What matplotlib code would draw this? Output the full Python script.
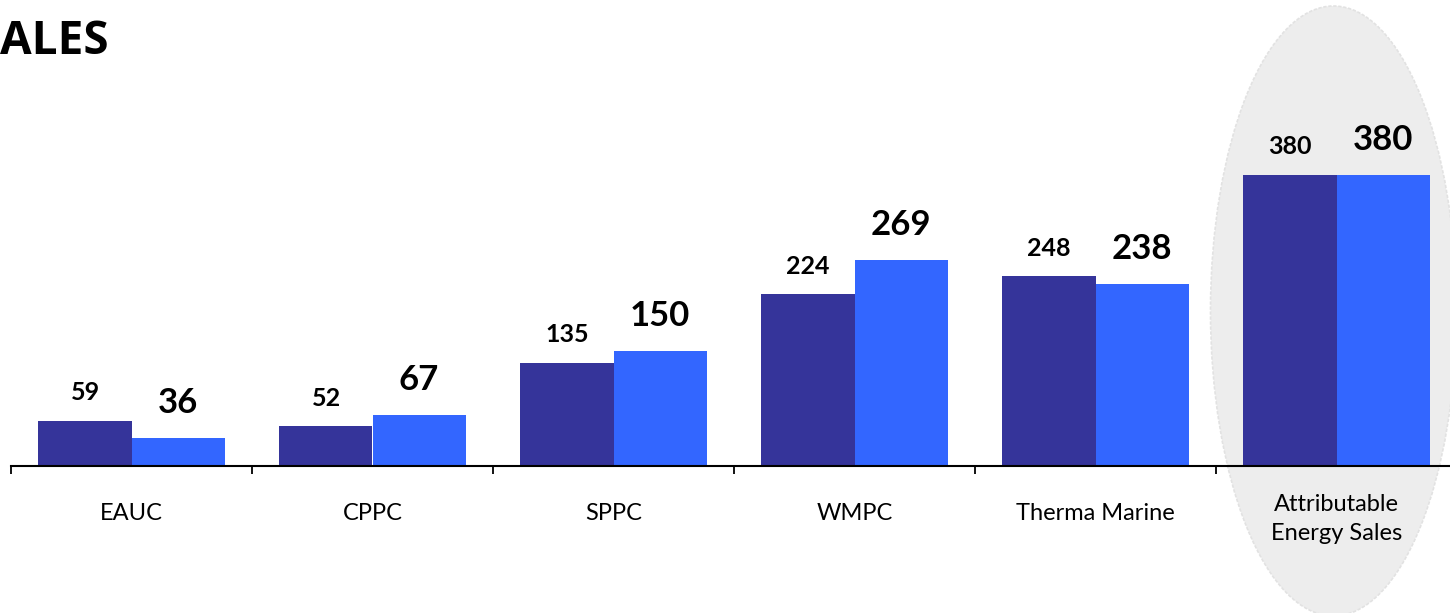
import matplotlib.pyplot as plt
from matplotlib.patches import Ellipse
import matplotlib.transforms as mtransforms
import numpy as np

# data
categories = ['EAUC', 'CPPC', 'SPPC', 'WMPC', 'Therma Marine', 'Attributable\nEnergy Sales']
prev_values = [59, 52, 135, 224, 248, 380]
curr_values = [36, 67, 150, 269, 238, 380]

dark_blue = '#35349A'
light_blue = '#3366FF'

plt.rcParams['font.family'] = ['Lato', 'DejaVu Sans']

fig = plt.figure(figsize=(14.5, 6.13), dpi=100)
W, H = 1450, 613
# baseline at y=466 px from top, one category = 241 px
ax = fig.add_axes([11 / W, 147 / H, 1446 / W, 406 / H])
ax.set_facecolor('none')

x = np.arange(len(categories))
bw = 0.386
ax.bar(x - bw / 2, prev_values, bw, color=dark_blue, zorder=2)
ax.bar(x + bw / 2, curr_values, bw, color=light_blue, zorder=2)

ax.set_xlim(-0.5, len(categories) - 0.5)
ax.set_ylim(0, 530)

# value labels
for xi, v in zip(x, prev_values):
    ax.annotate(str(v), (xi - bw / 2, v), xytext=(0, 28), textcoords='offset pixels',
                ha='center', va='center', fontsize=18, fontweight='bold', color='black')
for xi, v in zip(x, curr_values):
    ax.annotate(str(v), (xi + bw / 2, v), xytext=(0, 35), textcoords='offset pixels',
                ha='center', va='center', fontsize=25, fontweight='bold', color='black')

# axis styling
for s in ['top', 'right', 'left']:
    ax.spines[s].set_visible(False)
ax.spines['bottom'].set_linewidth(1.5)
ax.set_yticks([])
ax.set_xticks(np.arange(-0.5, len(categories), 1.0))
ax.set_xticklabels([])
ax.tick_params(axis='x', which='major', length=6, width=1.3, direction='out')
ax.set_xticks(x, minor=True)
ax.set_xticklabels(categories, minor=True, fontsize=17, linespacing=1.45, va='center')
ax.tick_params(axis='x', which='minor', length=0, pad=34)

# two-line label sits a little lower in the original
last = ax.get_xticklabels(minor=True)[-1]
last.set_transform(last.get_transform() + mtransforms.ScaledTranslation(0, -6 / 100, fig.dpi_scale_trans))

# highlight ellipse behind the last group
fig.canvas.draw()
cx, _ = ax.transData.transform((len(categories) - 1, 0))
ell = Ellipse((cx - 3, 302), 246, 610, transform=None, facecolor='#EDEDED',
              edgecolor='#E2E2E2', linestyle=(0, (2, 1)), linewidth=1.2, zorder=-1)
fig.patches.append(ell)

fig.text(0, 571 / H, 'ALES', fontsize=33, fontweight='bold', family=['Open Sans', 'DejaVu Sans'],
         ha='left', va='center')

fig.savefig('out.png', dpi=100)
